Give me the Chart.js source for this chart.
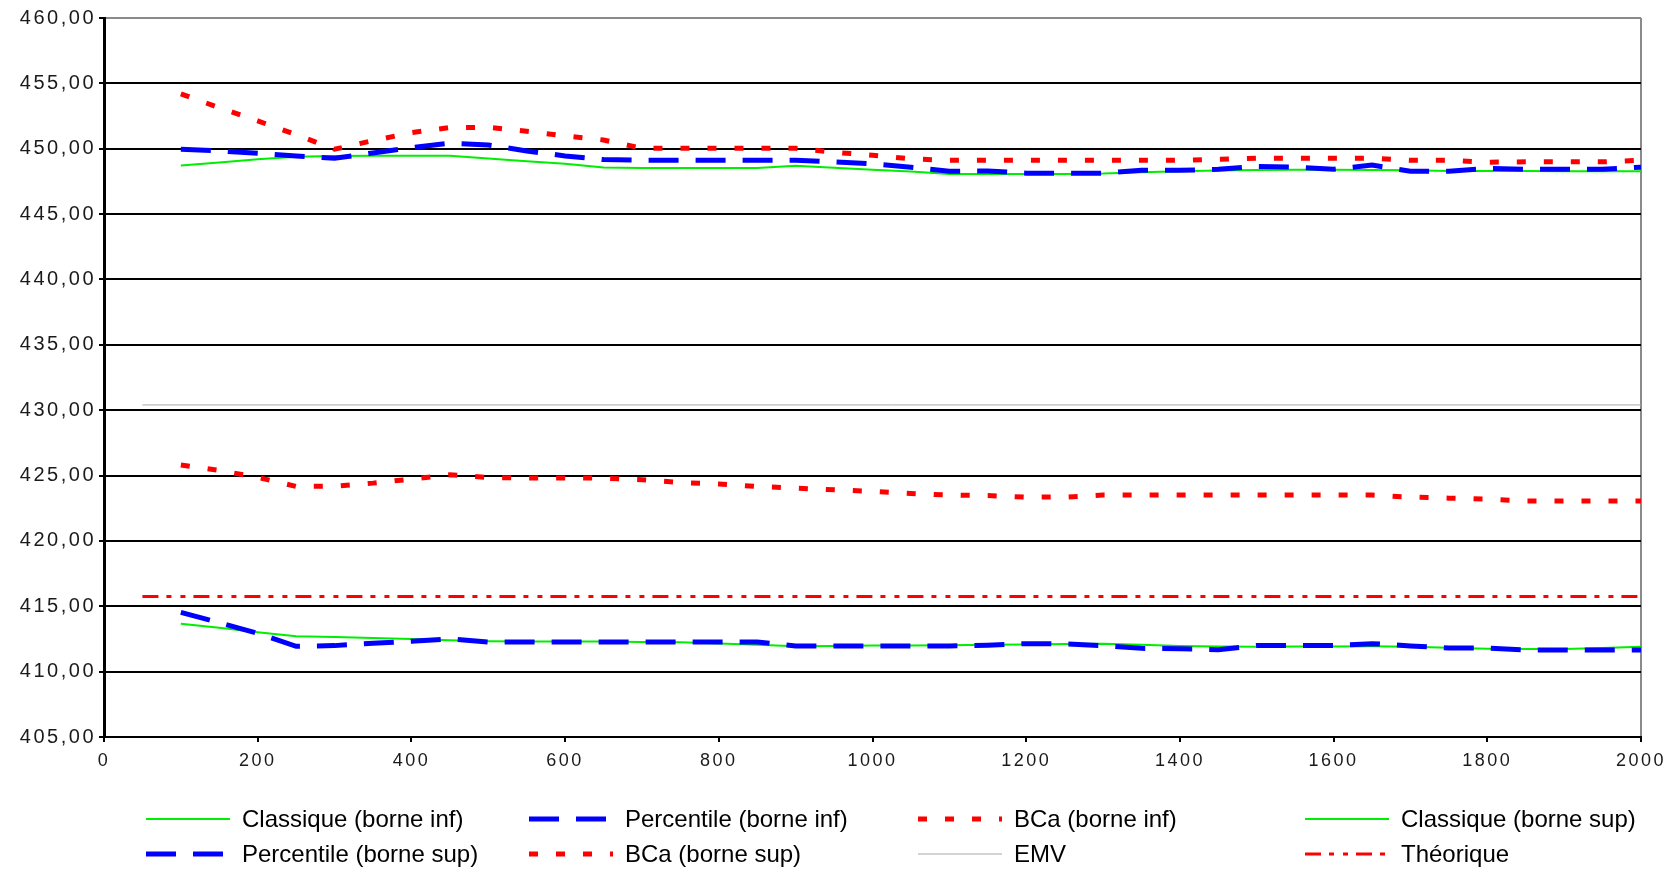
<!DOCTYPE html>
<html>
<head>
<meta charset="utf-8">
<script src="https://cdn.jsdelivr.net/npm/chart.js@4.4.1/dist/chart.umd.min.js"></script>
<style>
  html, body { margin: 0; padding: 0; background: #fff; }
  #wrap { width: 1667px; height: 869px; position: relative; }
</style>
</head>
<body>
<div id="wrap"><canvas id="c" width="1667" height="869"></canvas></div>
<script>
// ---- data ----
const xValues = [100,150,200,250,300,350,400,450,500,550,600,650,700,750,800,850,900,950,1000,1050,1100,1150,1200,1250,1300,1350,1400,1450,1500,1550,1600,1650,1700,1750,1800,1850,1900,1950,2000];

const classiqueInf = [413.67,413.35,413.02,412.70,412.65,412.58,412.50,412.40,412.32,412.30,412.30,412.30,412.27,412.25,412.15,412.05,411.95,411.97,411.99,412.00,412.02,412.05,412.08,412.11,412.14,412.05,411.96,411.92,411.90,411.92,411.93,411.94,411.90,411.82,411.76,411.73,411.73,411.80,411.90];
const percentileInf = [414.53,413.75,412.93,411.94,411.99,412.17,412.32,412.50,412.27,412.27,412.27,412.27,412.27,412.27,412.27,412.27,411.96,411.96,411.96,411.96,411.96,412.02,412.14,412.12,411.99,411.78,411.75,411.68,412.00,411.99,411.99,412.14,411.97,411.80,411.80,411.66,411.66,411.66,411.66];
const bcaInf = [425.80,425.39,424.86,424.17,424.19,424.42,424.73,425.06,424.85,424.82,424.82,424.80,424.68,424.47,424.35,424.17,424.04,423.91,423.79,423.63,423.51,423.47,423.35,423.35,423.51,423.51,423.51,423.51,423.51,423.51,423.51,423.51,423.35,423.27,423.20,423.05,423.05,423.05,423.05];
const classiqueSup = [448.71,448.95,449.20,449.38,449.45,449.47,449.47,449.47,449.25,449.05,448.85,448.56,448.53,448.53,448.53,448.53,448.70,448.55,448.40,448.25,448.07,448.07,448.07,448.07,448.10,448.20,448.28,448.33,448.38,448.40,448.40,448.38,448.35,448.30,448.30,448.30,448.28,448.28,448.28];
const percentileSup = [449.96,449.83,449.65,449.45,449.27,449.68,450.09,450.42,450.29,449.83,449.45,449.17,449.12,449.12,449.12,449.12,449.12,448.99,448.84,448.58,448.28,448.30,448.13,448.13,448.13,448.35,448.35,448.43,448.64,448.59,448.43,448.75,448.28,448.28,448.50,448.43,448.43,448.43,448.59];
const bcaSup = [454.20,453.14,452.13,451.08,449.96,450.62,451.23,451.62,451.64,451.34,450.98,450.67,450.04,450.04,450.04,450.04,450.04,449.73,449.50,449.22,449.12,449.12,449.12,449.12,449.12,449.12,449.12,449.20,449.27,449.27,449.27,449.27,449.12,449.12,448.97,449.00,449.00,449.00,449.12];

const refX = [50, 2000];
const emv = [430.40, 430.40];
const theorique = [415.75, 415.75];

const seriesNames = ['Classique (borne inf)','Percentile (borne inf)','BCa (borne inf)','Classique (borne sup)','Percentile (borne sup)','BCa (borne sup)','EMV','Théorique'];

const xTicks = { min: 0, max: 2000, step: 200 };
const yTicks = { min: 405, max: 460, step: 5 };

// ---- build ----
const pts = (xs, ys) => xs.map((x, i) => ({ x: x, y: ys[i] }));

const styles = [
  { borderColor: '#00ee00', borderWidth: 2, borderDash: [] },
  { borderColor: '#0000ff', borderWidth: 5, borderDash: [30, 17] },
  { borderColor: '#ff0000', borderWidth: 5, borderDash: [9, 18] },
  { borderColor: '#00ee00', borderWidth: 2, borderDash: [] },
  { borderColor: '#0000ff', borderWidth: 5, borderDash: [30, 17] },
  { borderColor: '#ff0000', borderWidth: 5, borderDash: [9, 18] },
  { borderColor: '#a8a8a8', borderWidth: 1, borderDash: [] },
  { borderColor: '#ff0000', borderWidth: 3, borderDash: [16, 8, 5, 9, 5, 8] }
];
const seriesData = [
  pts(xValues, classiqueInf), pts(xValues, percentileInf), pts(xValues, bcaInf),
  pts(xValues, classiqueSup), pts(xValues, percentileSup), pts(xValues, bcaSup),
  pts(refX, emv), pts(refX, theorique)
];

const datasets = seriesNames.map((name, i) => Object.assign({
  label: name,
  data: seriesData[i],
  fill: false,
  pointRadius: 0,
  tension: 0,
  order: -i,
  borderCapStyle: 'butt'
}, styles[i]));

const fmt = v => v.toFixed(2).replace('.', ',');

// wide tick lettering like the original
const spacingPlugin = {
  id: 'tickSpacing',
  beforeDraw(chart) { chart.ctx.letterSpacing = '2.5px'; },
  beforeDatasetsDraw(chart) { chart.ctx.letterSpacing = '0px'; }
};

const legendPlugin = {
  id: 'customLegend',
  afterDraw(chart) {
    const ctx = chart.ctx;
    const colX = [146, 529, 918, 1305];
    const rowY = [819, 854];
    ctx.save();
    ctx.letterSpacing = '0px';
    chart.data.datasets.forEach((ds, i) => {
      const r = Math.floor(i / 4), c = i % 4;
      const x = colX[c], y = rowY[r];
      ctx.beginPath();
      ctx.strokeStyle = ds.borderColor;
      ctx.lineWidth = ds.borderWidth;
      ctx.setLineDash(ds.borderDash || []);
      ctx.lineCap = 'butt';
      ctx.moveTo(x, y);
      ctx.lineTo(x + 84, y);
      ctx.stroke();
      ctx.setLineDash([]);
      ctx.fillStyle = '#000';
      ctx.font = '24px "Liberation Sans", Arial, sans-serif';
      ctx.textBaseline = 'middle';
      ctx.textAlign = 'left';
      ctx.fillText(ds.label, x + 96, y + 1);
    });
    ctx.restore();
  }
};

new Chart(document.getElementById('c'), {
  type: 'line',
  data: { datasets: datasets },
  options: {
    responsive: false,
    animation: false,
    layout: { padding: { left: 0, top: 18, right: 26, bottom: 92 } },
    plugins: { legend: { display: false }, tooltip: { enabled: false } },
    scales: {
      x: {
        type: 'linear',
        min: xTicks.min, max: xTicks.max,
        ticks: { stepSize: xTicks.step, color: '#1a1a1a', maxRotation: 0, padding: 8,
                 callback: v => String(v),
                 font: { family: '"Liberation Sans", Arial, sans-serif', size: 18 } },
        grid: {
          color: c => (c.tick && c.tick.value === xTicks.max) ? '#8a8a8a' : 'rgba(0,0,0,0)',
          tickColor: '#000', lineWidth: 2, tickLength: 5
        },
        border: { color: '#000', width: 2 },
        afterFit: s => { s.height = 40; s.paddingLeft = 0; s.paddingRight = 0; }
      },
      y: {
        min: yTicks.min, max: yTicks.max,
        ticks: { stepSize: yTicks.step, color: '#1a1a1a', padding: 3, callback: v => fmt(v),
                 font: { family: '"Liberation Sans", Arial, sans-serif', size: 20 } },
        grid: {
          color: c => (c.tick && c.tick.value === yTicks.max) ? '#8a8a8a' : '#000',
          tickColor: '#000', lineWidth: 2, tickLength: 5
        },
        border: { color: '#000', width: 3 },
        afterFit: s => { s.width = 104; s.paddingTop = 0; s.paddingBottom = 0; }
      }
    }
  },
  plugins: [spacingPlugin, legendPlugin]
});
</script>
</body>
</html>
